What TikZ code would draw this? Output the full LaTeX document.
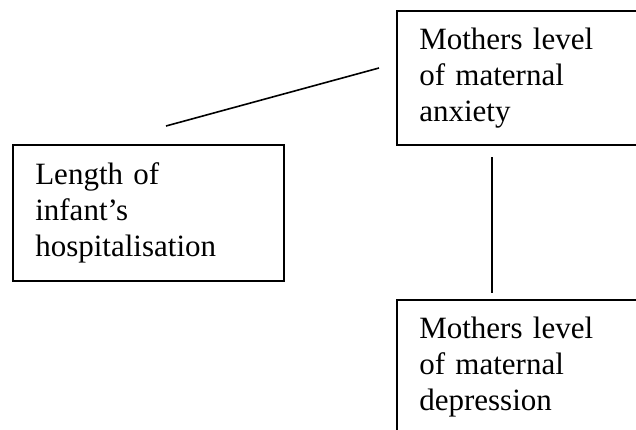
\documentclass[tikz,border=0pt]{standalone}
\usepackage{fontspec}
\setmainfont{Liberation Serif}
\begin{document}
\begin{tikzpicture}[x=1pt, y=-1pt, line width=1.6pt,
    box/.style={draw, rectangle, anchor=north west, align=left,
        inner xsep=22.5pt, inner ysep=0pt, font=\fontsize{31}{36}\selectfont}]
                    \useasboundingbox (0,0) rectangle (636,429);
                    \clip (0,0) rectangle (636,429);

                    \coordinate (c1) at (166,126);
                    \coordinate (c2) at (379,68);
                    \coordinate (c3) at (492,157);
                    \coordinate (c4) at (492,293);

                    \node[box, text width=205pt, minimum height=134pt] (anxiety) at (396,10) {Mothers level\\of maternal\\anxiety};
                    \node[box, text width=226pt, minimum height=136pt] (length) at (12,144) {Length of\\infant’s\\hospitalisation};
                    \node[box, text width=205pt, minimum height=134pt] (depression) at (396,299) {Mothers level\\of maternal\\depression};

                    \draw (c1) -- (c2);
                    \draw (c3) -- (c4);

                \end{tikzpicture}
\end{document}
